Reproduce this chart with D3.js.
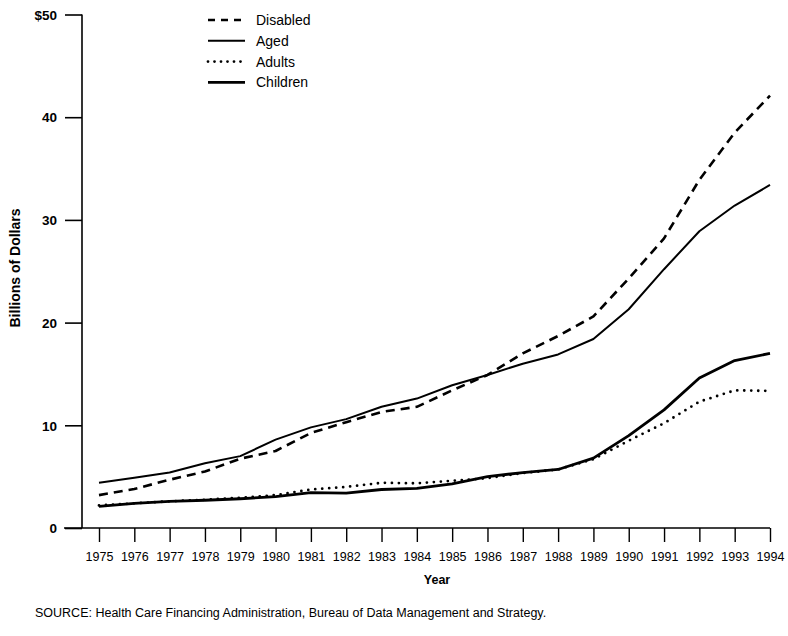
<!DOCTYPE html>
<html><head><meta charset="utf-8">
<script src="https://cdn.jsdelivr.net/npm/d3@7/dist/d3.min.js"></script>
<style>body{margin:0;background:#fff}svg{display:block}text{font-family:"Liberation Sans",Arial,sans-serif;fill:#000}</style>
</head><body>
<svg id="c" width="788" height="636"></svg>
<script>
const years = [1975,1976,1977,1978,1979,1980,1981,1982,1983,1984,1985,1986,1987,1988,1989,1990,1991,1992,1993,1994];
const disabled = [3.2,3.8,4.7,5.5,6.75,7.5,9.25,10.3,11.3,11.8,13.4,14.9,17.0,18.7,20.6,24.3,28.2,33.9,38.5,42.1];
const aged     = [4.4,4.9,5.4,6.3,7.0,8.6,9.8,10.6,11.8,12.6,13.9,14.9,16.0,16.9,18.4,21.3,25.2,28.9,31.4,33.4];
const adults   = [2.2,2.4,2.6,2.75,2.95,3.2,3.75,4.0,4.4,4.35,4.6,4.85,5.35,5.7,6.7,8.5,10.2,12.3,13.4,13.35];
const children = [2.1,2.4,2.6,2.7,2.85,3.05,3.45,3.4,3.75,3.85,4.3,5.0,5.4,5.7,6.8,9.0,11.5,14.6,16.3,17.0];
const yTicks = [0,10,20,30,40,50];
const yTickLabels = ["0","10","20","30","40","$50"];
const seriesNames = ["Disabled","Aged","Adults","Children"];

const svg = d3.select("#c");
const x = d3.scalePoint().domain(years).range([99, 770]);
const y = d3.scaleLinear().domain([0,50]).range([528, 14.5]);

// Y axis
const yAxis = d3.axisLeft(y).tickValues(yTicks).tickSize(17).tickPadding(8)
  .tickFormat((d,i)=>yTickLabels[i]);
const gy = svg.append("g").attr("transform","translate(82,0)").call(yAxis);
gy.select(".domain").attr("stroke","#000").attr("stroke-width",1.6).attr("d",`M0,${y(50)}V${y(0)}`);
gy.selectAll(".tick line").attr("stroke","#000").attr("stroke-width",1.6);
gy.selectAll(".tick text").attr("font-size","13.5px").attr("font-weight","bold").attr("dy","0.35em");

// X axis
const xAxis = d3.axisBottom(x).tickSize(14).tickPadding(8);
const gx = svg.append("g").attr("transform",`translate(0,${y(0)})`).call(xAxis);
gx.select(".domain").attr("stroke","#000").attr("stroke-width",1.6).attr("d","M64,0H770");
gx.selectAll(".tick line").attr("stroke","#000").attr("stroke-width",1.4);
gx.selectAll(".tick text").attr("font-size","12.5px").attr("dy","0.9em");

// Lines
const data = [disabled, aged, adults, children];
const styles = [
  {dash:"9,6", w:2.6, cap:"butt"},
  {dash:null, w:2.0, cap:"butt"},
  {dash:"0,7", w:2.8, cap:"round"},
  {dash:null, w:2.8, cap:"butt"}
];
const line = d3.line().x((d,i)=>x(years[i])).y(d=>y(d));
data.forEach((s,k)=>{
  const p = svg.append("path").datum(s).attr("d",line)
    .attr("fill","none").attr("stroke","#000")
    .attr("stroke-width",styles[k].w).attr("stroke-linecap",styles[k].cap)
    .attr("stroke-linejoin","round");
  if(styles[k].dash) p.attr("stroke-dasharray",styles[k].dash);
});

// Legend
const lg = svg.append("g");
seriesNames.forEach((n,k)=>{
  const yy = 20 + k*20.8;
  const l = lg.append("line").attr("x1",208).attr("x2",245).attr("y1",yy).attr("y2",yy)
    .attr("stroke","#000").attr("stroke-width",styles[k].w).attr("stroke-linecap",styles[k].cap);
  if(styles[k].dash) l.attr("stroke-dasharray", k===0 ? "7,6" : "0,6.5");
  lg.append("text").attr("x",256).attr("y",yy).attr("dy","0.35em").attr("font-size","14px").text(n);
});

// Titles
svg.append("text").attr("transform","translate(15,268) rotate(-90)").attr("text-anchor","middle")
  .attr("dy","0.35em").attr("font-size","14px").attr("font-weight","bold").text("Billions of Dollars");
svg.append("text").attr("x",437).attr("y",580).attr("dy","0.35em").attr("text-anchor","middle")
  .attr("font-size","12.5px").attr("font-weight","bold").text("Year");
svg.append("text").attr("x",35).attr("y",613).attr("dy","0.35em")
  .attr("font-size","12.5px").text("SOURCE: Health Care Financing Administration, Bureau of Data Management and Strategy.");
</script>
</body></html>
